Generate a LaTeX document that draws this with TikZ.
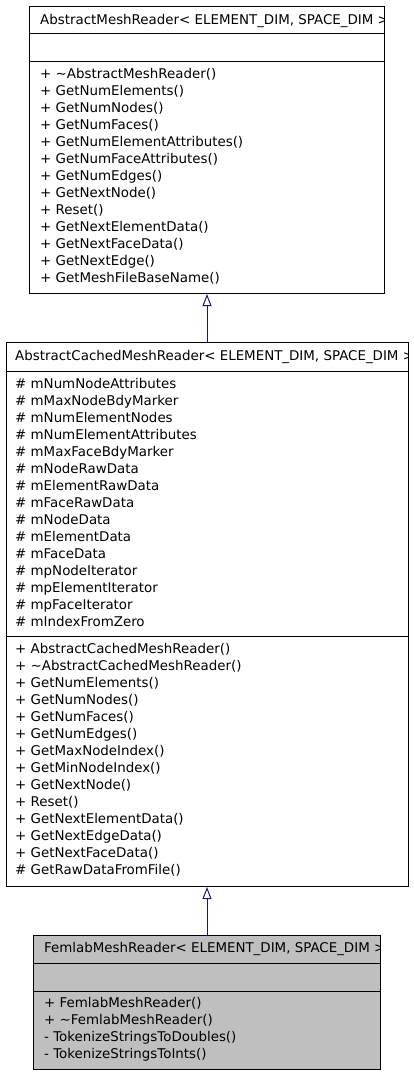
\documentclass[tikz,border=0pt]{standalone}
\usepackage{fontspec}
\setmainfont{DejaVu Sans}
\usetikzlibrary{arrows.meta}
\definecolor{edgeblue}{RGB}{25,25,112}
\definecolor{boxgray}{RGB}{191,191,191}
\tikzset{
  umlbox/.style={draw=black, line width=1pt, fill=white, rectangle, inner sep=0pt, anchor=north west},
  hilite/.style={fill=boxgray},
  txt/.style={inner sep=0pt, anchor=base west, font=\fontsize{13.4}{15}\selectfont},
  divider/.style={draw=black, line width=1pt},
  inherit/.style={draw=edgeblue, line width=1pt, -{Triangle[open, length=12pt, width=9pt]}}
}
\begin{document}
\begin{tikzpicture}[x=1pt,y=-1pt]
\useasboundingbox (0,0) rectangle (413,1075);

% ---------- Box 1 ----------
\node[umlbox, minimum width=355pt, minimum height=287pt] (b1) at (29,6) {};
\draw[divider] (29,34) -- (384,34);
\draw[divider] (29,62) -- (384,62);
\begin{scope}
\clip (29,6) rectangle (384,34);
\node[txt] (b1h) at (40,24.5) {AbstractMeshReader< ELEMENT\_DIM, SPACE\_DIM >};
\end{scope}
\foreach \t [count=\i from 0] in {%
 + \textasciitilde AbstractMeshReader(),
 + GetNumElements(),
 + GetNumNodes(),
 + GetNumFaces(),
 + GetNumElementAttributes(),
 + GetNumFaceAttributes(),
 + GetNumEdges(),
 + GetNextNode(),
 + Reset(),
 + GetNextElementData(),
 + GetNextFaceData(),
 + GetNextEdge(),
 + GetMeshFileBaseName()}
 \node[txt] (b1m\i) at (40,78.5+17*\i) {\t};

% ---------- Box 2 ----------
\node[umlbox, minimum width=402pt, minimum height=544pt] (b2) at (6,342) {};
\draw[divider] (6,371) -- (408,371);
\draw[divider] (6,636) -- (408,636);
\begin{scope}
\clip (6,342) rectangle (408,371);
\node[txt] (b2h) at (15,360.5) {AbstractCachedMeshReader< ELEMENT\_DIM, SPACE\_DIM >};
\end{scope}
\foreach \t [count=\i from 0] in {%
 \# mNumNodeAttributes,
 \# mMaxNodeBdyMarker,
 \# mNumElementNodes,
 \# mNumElementAttributes,
 \# mMaxFaceBdyMarker,
 \# mNodeRawData,
 \# mElementRawData,
 \# mFaceRawData,
 \# mNodeData,
 \# mElementData,
 \# mFaceData,
 \# mpNodeIterator,
 \# mpElementIterator,
 \# mpFaceIterator,
 \# mIndexFromZero}
 \node[txt] (b2a\i) at (15,388.5+17*\i) {\t};
\foreach \t [count=\i from 0] in {%
 + AbstractCachedMeshReader(),
 + \textasciitilde AbstractCachedMeshReader(),
 + GetNumElements(),
 + GetNumNodes(),
 + GetNumFaces(),
 + GetNumEdges(),
 + GetMaxNodeIndex(),
 + GetMinNodeIndex(),
 + GetNextNode(),
 + Reset(),
 + GetNextElementData(),
 + GetNextEdgeData(),
 + GetNextFaceData(),
 \# GetRawDataFromFile()}
 \node[txt] (b2m\i) at (15,653.5+17*\i) {\t};

% ---------- Box 3 ----------
\node[umlbox, hilite, minimum width=347pt, minimum height=134pt] (b3) at (33,935) {};
\draw[divider] (33,963) -- (380,963);
\draw[divider] (33,991) -- (380,991);
\begin{scope}
\clip (33,935) rectangle (380,963);
\node[txt] (b3h) at (44,952.5) {FemlabMeshReader< ELEMENT\_DIM, SPACE\_DIM >};
\end{scope}
\foreach \t [count=\i from 0] in {%
 + FemlabMeshReader(),
 + \textasciitilde FemlabMeshReader(),
 - TokenizeStringsToDoubles(),
 - TokenizeStringsToInts()}
 \node[txt] (b3m\i) at (44,1007.5+17*\i) {\t};

% ---------- Inheritance ----------
\draw[inherit] (b2.north -| 207,0) -- (b1.south -| 207,0);
\draw[inherit] (b3.north -| 207,0) -- (b2.south -| 207,0);
\end{tikzpicture}
\end{document}
